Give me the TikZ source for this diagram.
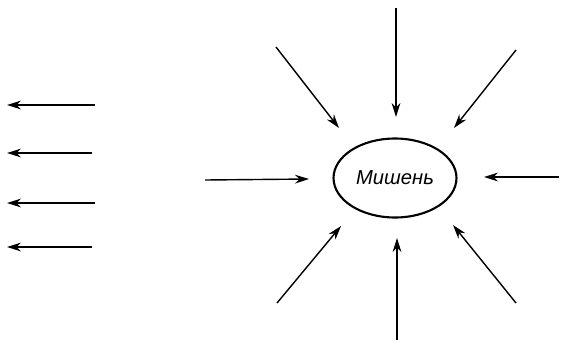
\documentclass[tikz,border=0pt]{standalone}
\usepackage{fontspec}
\newfontfamily\labelfont{Liberation Sans}
\usetikzlibrary{arrows.meta, shapes.geometric}

\begin{document}
\begin{tikzpicture}[x=0.02cm, y=-0.02cm, line width=0.8pt,
    ray/.style={-{Stealth[length=8pt, width=5pt]}}]
    \useasboundingbox (0,0) rectangle (581,342);
    \node[draw, ellipse, line width=1.2pt, minimum width=2.46cm, minimum height=1.58cm,
        inner sep=0pt, font=\labelfont\itshape\fontsize{11.5}{13}\selectfont] (target) at (395,178) {Мишень};

    % rays converging on the target
    \foreach \i/\sx/\sy/\ex/\ey in {1/396/8/396/117, 2/276/47/339/128, 3/516/50/454/128,
        4/205/180/309/179, 5/559/177/484/177, 6/277/303/341/226,
        7/516/303/453/225, 8/397/340/397/238} {
        \coordinate (in\i a) at (\sx,\sy);
        \coordinate (in\i b) at (\ex,\ey);
        \draw[ray] (in\i a) -- (in\i b);
    }

    % parallel rays going away on the left
    \foreach \i/\sx/\y in {1/95/105, 2/92/153, 3/95/203, 4/92/247} {
        \coordinate (out\i a) at (\sx,\y);
        \coordinate (out\i b) at (7,\y);
        \draw[ray, line width=1pt] (out\i a) -- (out\i b);
    }
\end{tikzpicture}
\end{document}
